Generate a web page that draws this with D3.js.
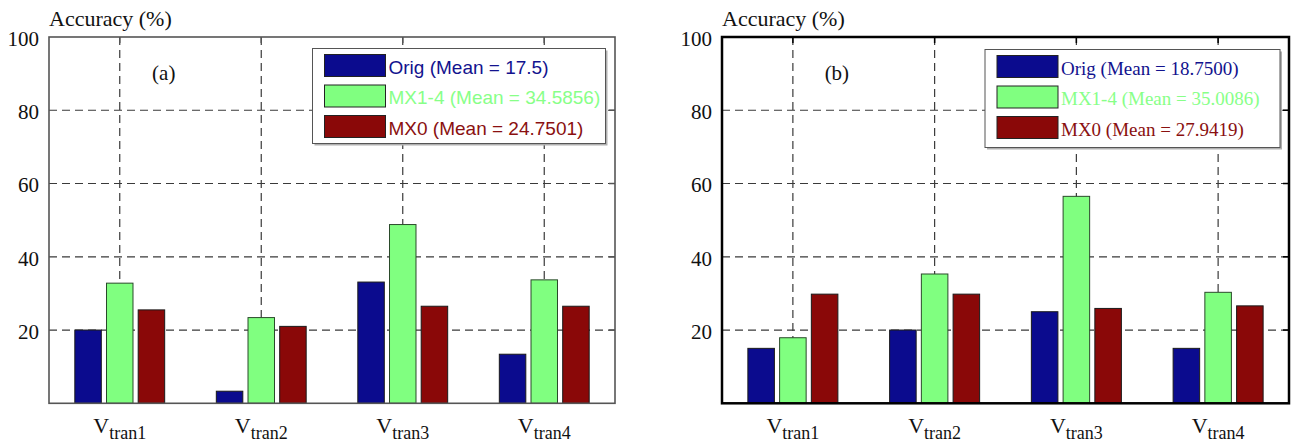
<!DOCTYPE html>
<html>
<head>
<meta charset="utf-8">
<script src="https://cdn.jsdelivr.net/npm/d3@7"></script>
<style>
html,body{margin:0;padding:0;background:#fff;}
svg{display:block;}
.serif{font-family:"Liberation Serif","Times New Roman","DejaVu Serif",serif;}
.sans{font-family:"Liberation Sans",Arial,"DejaVu Sans",sans-serif;}
</style>
</head>
<body>
<svg id="chart" width="1292" height="443"></svg>
<script>
// ---- data ----
const categories = ["tran1", "tran2", "tran3", "tran4"];
const seriesNames = ["Orig", "MX1-4", "MX0"];
const origA = [20, 3.3, 33.1, 13.4];
const mx14A = [32.8, 23.4, 48.8, 33.7];
const mx0A  = [25.5, 21.0, 26.5, 26.5];
const origB = [15, 20, 25, 15];
const mx14B = [17.9, 35.3, 56.5, 30.3];
const mx0B  = [29.8, 29.8, 25.9, 26.6];
const meansA = ["17.5", "34.5856", "24.7501"];
const meansB = ["18.7500", "35.0086", "27.9419"];
const yTicks = [20, 40, 60, 80, 100];
const yGrid = [20, 40, 60, 80];
const panelLabels = ["(a)", "(b)"];
const yTitle = "Accuracy (%)";

const fills = ["#0b0b8e", "#80ff80", "#8a0808"];
const textColors = ["#12128e", "#88ff88", "#8a1010"];

const svg = d3.select("#chart");

function panel(cfg) {
  const {left, right, top, bottom, series, means, label, frameColor, frameWidth, legendClass, legendBox} = cfg;
  const g = svg.append("g");
  const x0 = d3.scaleBand().domain(categories).range([left, right]).padding(0);
  const bw = x0.bandwidth();
  const x1 = d3.scaleBand().domain(seriesNames).range([-0.3175 * bw, 0.3175 * bw]).paddingInner(0.164).paddingOuter(0);
  const y = d3.scaleLinear().domain([0, 100]).range([bottom, top]);

  // grid
  g.append("g").selectAll("line.h").data(yGrid).join("line")
    .attr("x1", left).attr("x2", right)
    .attr("y1", d => y(d)).attr("y2", d => y(d))
    .attr("stroke", "#3a3a3a").attr("stroke-width", 1.2).attr("stroke-dasharray", "8,5");
  g.append("g").selectAll("line.v").data(categories).join("line")
    .attr("x1", d => x0(d) + bw / 2).attr("x2", d => x0(d) + bw / 2)
    .attr("y1", top).attr("y2", bottom)
    .attr("stroke", "#3a3a3a").attr("stroke-width", 1.2).attr("stroke-dasharray", "8,5");

  // bars
  const rows = [];
  categories.forEach((c, i) => seriesNames.forEach((s, j) => rows.push({c, s, j, v: series[j][i]})));
  g.append("g").selectAll("rect").data(rows).join("rect")
    .attr("x", d => x0(d.c) + bw / 2 + x1(d.s))
    .attr("width", x1.bandwidth())
    .attr("y", d => y(d.v))
    .attr("height", d => y(0) - y(d.v))
    .attr("fill", d => fills[d.j])
    .attr("stroke", d => d.j === 1 ? "#2a4a2a" : "#1a1a1a")
    .attr("stroke-width", 1);

  // frame ticks (top & right)
  g.append("g").selectAll("line").data(categories).join("line")
    .attr("x1", d => x0(d) + bw / 2).attr("x2", d => x0(d) + bw / 2)
    .attr("y1", top).attr("y2", top + 6).attr("stroke", frameColor).attr("stroke-width", 1.5);
  g.append("g").selectAll("line").data(yGrid).join("line")
    .attr("x1", right - 6).attr("x2", right)
    .attr("y1", d => y(d)).attr("y2", d => y(d)).attr("stroke", frameColor).attr("stroke-width", 1.5);

  // frame
  g.append("rect").attr("x", left).attr("y", top).attr("width", right - left).attr("height", bottom - top)
    .attr("fill", "none").attr("stroke", frameColor).attr("stroke-width", frameWidth);

  // y axis labels
  const yAxis = d3.axisLeft(y).tickValues(yTicks).tickSize(0).tickPadding(10);
  const ya = g.append("g").attr("transform", `translate(${left},0)`).call(yAxis);
  ya.attr("font-family", null).attr("font-size", null);
  ya.select(".domain").remove();
  ya.selectAll("text").attr("class", "serif").style("font-size", "21px").attr("fill", "#111").attr("dy", "0.4em");

  // y title
  g.append("text").attr("class", "serif").attr("x", left).attr("y", 26).style("font-size", "22px")
    .attr("fill", "#111").text(yTitle);

  // x labels
  const xl = g.append("g").selectAll("text").data(categories).join("text")
    .attr("class", "serif")
    .attr("x", d => x0(d) + bw / 2).attr("y", 433)
    .attr("text-anchor", "middle").attr("fill", "#111");
  xl.append("tspan").style("font-size", "22px").text("V");
  xl.append("tspan").style("font-size", "18px").attr("dy", 6).text(d => d);

  // panel label
  g.append("text").attr("class", "serif").attr("x", x0(categories[0]) + bw / 2 + 44).attr("y", 80).attr("text-anchor", "middle")
    .style("font-size", "21px").attr("fill", "#111").text(label);

  // legend
  const lb = legendBox;
  g.append("rect").attr("x", lb.x + 2).attr("y", lb.y + 2).attr("width", lb.w).attr("height", lb.h).attr("fill", "#b0b0b0");
  g.append("rect").attr("x", lb.x).attr("y", lb.y).attr("width", lb.w).attr("height", lb.h)
    .attr("fill", "#fff").attr("stroke", "#555").attr("stroke-width", 1);
  const items = g.append("g").selectAll("g").data(seriesNames).join("g")
    .attr("transform", (d, i) => `translate(${lb.x + 12},${lb.y + 6 + i * 30.5})`);
  items.append("rect").attr("width", 61).attr("height", 22)
    .attr("fill", (d, i) => fills[i]).attr("stroke", "#222").attr("stroke-width", 1);
  items.append("text").attr("class", legendClass).attr("x", 64).attr("y", 19)
    .style("font-size", "19px")
    .attr("fill", (d, i) => textColors[i])
    .text((d, i) => `${d} (Mean = ${means[i]})`);
}

panel({left: 49, right: 615, top: 37, bottom: 403.3, series: [origA, mx14A, mx0A], means: meansA,
  label: panelLabels[0], frameColor: "#555", frameWidth: 1.6, legendClass: "sans",
  legendBox: {x: 312.5, y: 48.5, w: 293, h: 95}});
panel({left: 722, right: 1289, top: 37, bottom: 403.3, series: [origB, mx14B, mx0B], means: meansB,
  label: panelLabels[1], frameColor: "#000", frameWidth: 2.5, legendClass: "serif",
  legendBox: {x: 985, y: 49.5, w: 295, h: 98}});
</script>
</body>
</html>
